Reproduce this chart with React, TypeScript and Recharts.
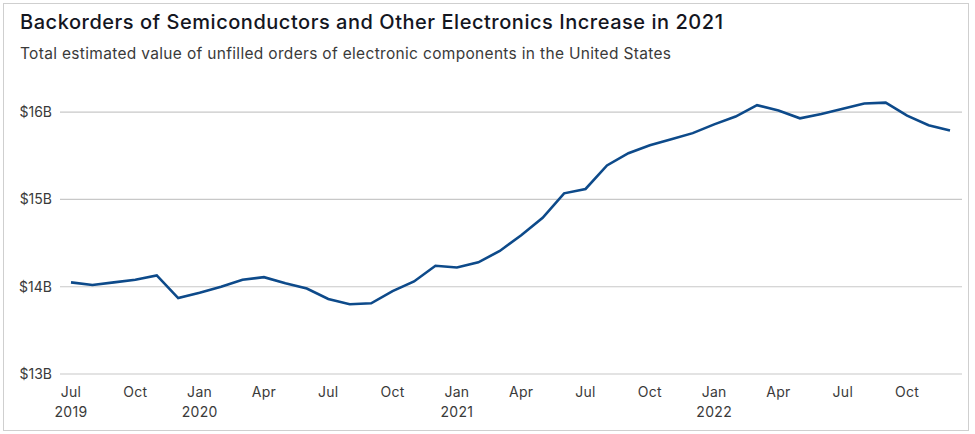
import React from 'react';
import { LineChart, Line, XAxis, YAxis, CartesianGrid } from 'recharts';

// Monthly periods, Jul 2019 – Dec 2022
const monthNames = ['Jul', 'Aug', 'Sep', 'Oct', 'Nov', 'Dec', 'Jan', 'Feb', 'Mar', 'Apr', 'May', 'Jun'];
const startYear = 2019;

// Unfilled orders of electronic components, billions of USD
const backorders = [
  14.05, 14.02, 14.05, 14.08, 14.13, 13.87,
  13.93, 14.0, 14.08, 14.11, 14.04, 13.98, 13.86, 13.8, 13.81, 13.95, 14.06, 14.24,
  14.22, 14.28, 14.41, 14.59, 14.79, 15.07, 15.12, 15.39, 15.53, 15.62, 15.69, 15.76,
  15.86, 15.95, 16.08, 16.02, 15.93, 15.98, 16.04, 16.1, 16.11, 15.96, 15.85, 15.79,
];

const yTicks = [13, 14, 15, 16];

const title = 'Backorders of Semiconductors and Other Electronics Increase in 2021';
const subtitle = 'Total estimated value of unfilled orders of electronic components in the United States';

const data = backorders.map((value, i) => {
  const month = monthNames[i % 12];
  const year = startYear + Math.floor((i + 6) / 12);
  return { month, year, label: `${month} ${year}`, value };
});

const FONT = 'Inter, "Noto Sans", sans-serif';

const MonthTick = (props: any) => {
  const { x, y, payload } = props;
  const item = data[payload.index] ?? data.find((d) => d.label === payload.value);
  if (!item) return null;
  const showYear = item.month === 'Jan' || payload.index === 0;
  return (
    <g>
      <text x={x} y={y + 15} textAnchor="middle" fontSize={14} fill="#3a3a3a" fontFamily={FONT} letterSpacing={0.3}>
        {item.month}
      </text>
      {showYear && (
        <text x={x} y={y + 35} textAnchor="middle" fontSize={14} fill="#3a3a3a" fontFamily={FONT} letterSpacing={0.3}>
          {item.year}
        </text>
      )}
    </g>
  );
};

export default function App() {
  return (
    <div style={{ position: 'absolute', left: 0, top: 0, width: 975, height: 434, background: '#fff', fontFamily: FONT }}>
      <div
        style={{
          position: 'absolute',
          left: 3,
          top: 3,
          width: 964,
          height: 426,
          border: '1px solid #cfcfcf',
        }}
      />
      <div
        style={{
          position: 'absolute',
          left: 20,
          top: 10,
          fontSize: 20,
          fontWeight: 500,
          letterSpacing: 0.53,
          color: '#14161f',
          whiteSpace: 'nowrap',
        }}
      >
        {title}
      </div>
      <div
        style={{
          position: 'absolute',
          left: 20,
          top: 44,
          fontSize: 15.5,
          letterSpacing: 0.32,
          color: '#3a3a3a',
          whiteSpace: 'nowrap',
        }}
      >
        {subtitle}
      </div>
      <div style={{ position: 'absolute', left: 0, top: 0 }}>
        <LineChart width={975} height={434} data={data} margin={{ top: 86, right: 13, bottom: 10, left: 0 }}>
          <CartesianGrid vertical={false} horizontalValues={yTicks} stroke="#c8c8c8" strokeWidth={1.2} />
          <XAxis
            dataKey="label"
            axisLine={false}
            tickLine={false}
            interval={2}
            height={50}
            padding={{ left: 11, right: 12 }}
            tick={<MonthTick />}
          />
          <YAxis
            domain={[13, 16.3]}
            ticks={yTicks}
            axisLine={false}
            tickLine={false}
            tickSize={0}
            tickMargin={8}
            width={60}
            tick={{ fontSize: 14, fill: '#3a3a3a', fontFamily: FONT }}
            tickFormatter={(v: number) => `$${v}B`}
          />
          <Line
            type="linear"
            dataKey="value"
            stroke="#0d4a8a"
            strokeWidth={2.6}
            dot={false}
            isAnimationActive={false}
          />
        </LineChart>
      </div>
    </div>
  );
}
